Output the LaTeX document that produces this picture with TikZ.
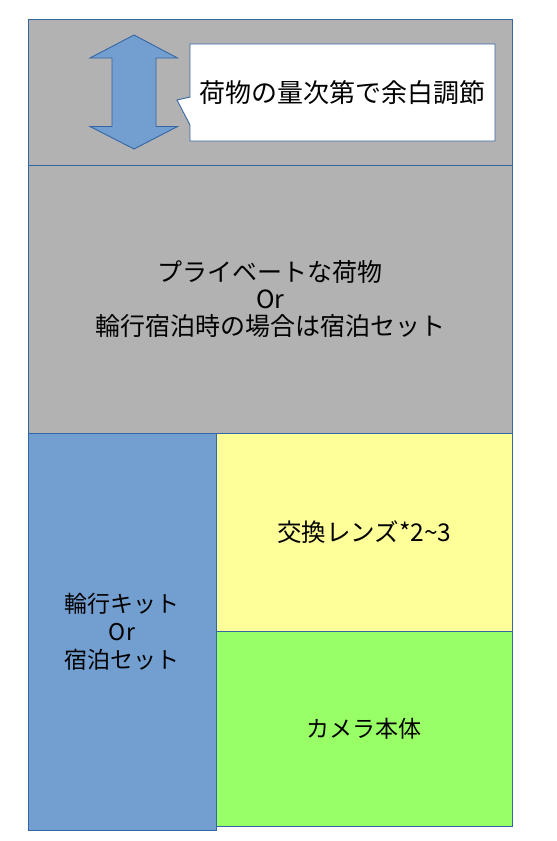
\documentclass[tikz,border=0pt]{standalone}
\usepackage{fontspec}
\newfontfamily\jpfont{Noto Sans CJK JP}
\definecolor{bagGrey}{HTML}{B2B2B2}
\definecolor{kitBlue}{HTML}{729FCF}
\definecolor{lensYellow}{HTML}{FFFF99}
\definecolor{bodyGreen}{HTML}{99FF66}
\definecolor{edgeBlue}{HTML}{3465A4}
\begin{document}
\begin{tikzpicture}[x=1pt, y=-1pt,
    box/.style={draw=edgeBlue, line width=0.9pt, anchor=north west, inner sep=0pt,
      align=center, font=\jpfont\fontsize{23}{28}\selectfont},
    arrowshape/.style={draw=edgeBlue, line width=0.9pt, fill=kitBlue}]
      \useasboundingbox (0, 0) rectangle (557, 841);

      \node[box, fill=bagGrey, minimum width=484.5pt, minimum height=146pt] (margin) at (27.5, 19) {};
      \node[box, fill=bagGrey, minimum width=484.5pt, minimum height=268pt,
        font=\jpfont\fontsize{25}{27}\selectfont] (private) at (27.5, 165)
        {プライベートな荷物\\Or\\輪行宿泊時の場合は宿泊セット};
      \node[box, fill=kitBlue, minimum width=188pt, minimum height=397pt] (kit) at (27.5, 433)
        {輪行キット\\Or\\宿泊セット};
      \node[box, fill=lensYellow, minimum width=296.5pt, minimum height=198pt,
        font=\jpfont\fontsize{24.5}{28}\selectfont] (lens) at (215.5, 433)
        {交換レンズ*2\textasciitilde3};
      \node[box, fill=bodyGreen, minimum width=296.5pt, minimum height=195pt] (body) at (215.5, 631)
        {カメラ本体};

      % up/down arrow
      \draw[arrowshape] (134, 35) -- (177.5, 58) -- (156, 58) -- (156, 126.5) -- (177.5, 126.5)
        -- (134, 149) -- (90, 126.5) -- (112, 126.5) -- (112, 58) -- (90, 58) -- cycle;

      % callout
      \draw[draw=edgeBlue, line width=0.9pt, fill=white] (190, 44) -- (495, 44) -- (495, 141)
        -- (190, 141) -- (190, 125) -- (177, 100) -- (190, 97) -- cycle;
      \node[font=\jpfont\fontsize{26}{30}\selectfont] (note) at (342.5, 92.5) {荷物の量次第で余白調節};
    \end{tikzpicture}
\end{document}
